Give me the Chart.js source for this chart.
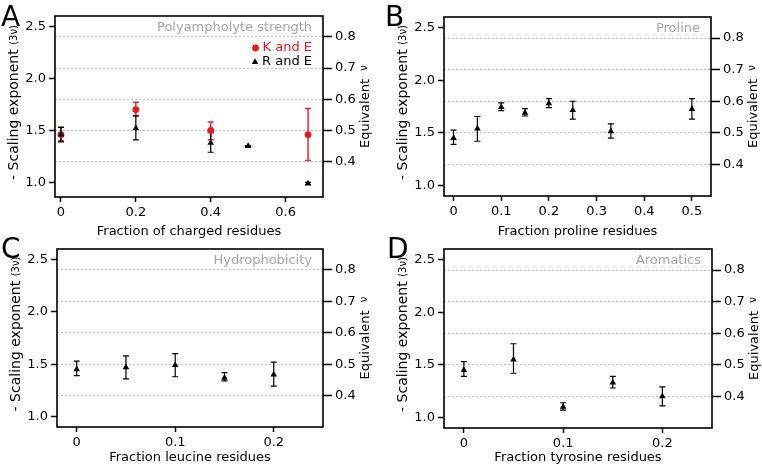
<!DOCTYPE html>
<html>
<head>
<meta charset="utf-8">
<script src="https://cdn.jsdelivr.net/npm/chart.js@4.4.1/dist/chart.umd.min.js"></script>
<style>
  body { margin: 0; background: #fff; }
  #fig { position: relative; width: 762px; height: 467px; background: #fff; }
  #fig canvas { position: absolute; }
</style>
</head>
<body>
<div id="fig">
  <canvas id="panelC" width="381" height="234" style="left:0;top:233px"></canvas>
  <canvas id="panelD" width="381" height="234" style="left:381px;top:233px"></canvas>
  <canvas id="panelA" width="381" height="242" style="left:0;top:0"></canvas>
  <canvas id="panelB" width="381" height="242" style="left:381px;top:0"></canvas>
</div>
<script>
// A: polyampholyte strength
const chargedKE = [0, 0.2, 0.4, 0.66];
const expKE = [1.46, 1.70, 1.50, 1.46];
const lowKE = [1.40, 1.64, 1.41, 1.21];
const highKE = [1.53, 1.77, 1.58, 1.71];

const chargedRE = [0, 0.2, 0.4, 0.5, 0.66];
const expRE = [1.46, 1.52, 1.38, 1.35, 0.99];
const lowRE = [1.39, 1.41, 1.29, 1.345, 0.98];
const highRE = [1.53, 1.64, 1.48, 1.355, 1.00];

// B: proline
const prolineFrac = [0, 0.05, 0.1, 0.15, 0.2, 0.25, 0.33, 0.5];
const expPro = [1.45, 1.54, 1.745, 1.69, 1.78, 1.715, 1.515, 1.725];
const lowPro = [1.39, 1.42, 1.71, 1.66, 1.74, 1.63, 1.45, 1.63];
const highPro = [1.525, 1.655, 1.785, 1.73, 1.825, 1.80, 1.585, 1.825];

// C: hydrophobicity (leucine)
const leucineFrac = [0, 0.05, 0.1, 0.15, 0.2];
const expLeu = [1.45, 1.47, 1.49, 1.37, 1.40];
const lowLeu = [1.39, 1.36, 1.38, 1.34, 1.29];
const highLeu = [1.53, 1.58, 1.60, 1.42, 1.52];

// D: aromatics (tyrosine)
const tyrosineFrac = [0, 0.05, 0.1, 0.15, 0.2];
const expTyr = [1.45, 1.55, 1.10, 1.33, 1.20];
const lowTyr = [1.39, 1.42, 1.07, 1.28, 1.11];
const highTyr = [1.53, 1.70, 1.14, 1.39, 1.29];

const yTicks = [1.0, 1.5, 2.0, 2.5];
const nuTicks = [0.4, 0.5, 0.6, 0.7, 0.8];
const xTicksA = [0, 0.2, 0.4, 0.6];
const xTicksB = [0, 0.1, 0.2, 0.3, 0.4, 0.5];
const xTicksCD = [0, 0.1, 0.2];

const FONT = '"DejaVu Sans", sans-serif';
Chart.defaults.font.family = FONT;
Chart.defaults.font.size = 13;
Chart.defaults.color = "#000";

function toPoints(xs, ys) {
  return xs.map((v, i) => ({ x: v, y: ys[i] }));
}

const errorBars = {
  id: "errorBars",
  beforeDatasetsDraw(chart) {
    const { ctx } = chart;
    const x = chart.scales.x, y = chart.scales.y;
    ctx.save();
    chart.data.datasets.forEach((ds) => {
      ctx.strokeStyle = ds.errColor;
      ctx.lineWidth = ds.errWidth;
      ds.data.forEach((p, i) => {
        const px = x.getPixelForValue(p.x);
        const top = y.getPixelForValue(ds.errHigh[i]);
        const bot = y.getPixelForValue(ds.errLow[i]);
        ctx.beginPath();
        ctx.moveTo(px, top); ctx.lineTo(px, bot);
        ctx.moveTo(px - 3, top); ctx.lineTo(px + 3, top);
        ctx.moveTo(px - 3, bot); ctx.lineTo(px + 3, bot);
        ctx.stroke();
      });
    });
    ctx.restore();
  },
};

const decor = {
  id: "decor",
  afterDraw(chart, args, opts) {
    const { ctx, chartArea: a } = chart;
    const midY = (a.top + a.bottom) / 2;
    ctx.save();
    ctx.strokeStyle = "#000";
    ctx.lineWidth = 1.6;
    ctx.strokeRect(a.left, a.top, a.right - a.left, a.bottom - a.top);

    ctx.fillStyle = "#000";
    ctx.font = "28px " + FONT;
    ctx.textAlign = "left";
    ctx.textBaseline = "alphabetic";
    ctx.fillText(opts.letter, opts.letterX, opts.letterY);

    ctx.font = "13px " + FONT;
    ctx.fillStyle = "#a6a6a6";
    ctx.textAlign = "right";
    ctx.textBaseline = "middle";
    ctx.fillText(opts.title, a.right - 11, a.top + 12);

    ctx.fillStyle = "#000";
    ctx.textAlign = "center";
    ctx.fillText(opts.xTitle, (a.left + a.right) / 2, a.bottom + opts.xTitleGap);

    // left title, reads bottom to top
    ctx.save();
    ctx.translate(a.left - 41, midY - 4);
    ctx.rotate(-Math.PI / 2);
    ctx.textAlign = "left";
    ctx.font = "14px " + FONT;
    const t1 = "- Scaling exponent ";
    const w1 = ctx.measureText(t1).width;
    ctx.font = "10px " + FONT;
    const t2 = "(3\u03bd)";
    const w2 = ctx.measureText(t2).width;
    ctx.font = "14px " + FONT;
    ctx.fillText(t1, -(w1 + w2) / 2, 0);
    ctx.font = "10px " + FONT;
    ctx.fillText(t2, -(w1 + w2) / 2 + w1, 0);
    ctx.restore();

    // right title
    ctx.save();
    ctx.translate(a.right + 43, midY);
    ctx.rotate(-Math.PI / 2);
    ctx.textAlign = "left";
    ctx.font = "13px " + FONT;
    const r1 = "Equivalent  ";
    const rw1 = ctx.measureText(r1).width;
    ctx.font = "10px " + FONT;
    const rw2 = ctx.measureText("\u03bd").width;
    ctx.font = "13px " + FONT;
    ctx.fillText(r1, -(rw1 + rw2) / 2, 0);
    ctx.font = "10px " + FONT;
    ctx.fillText("\u03bd", -(rw1 + rw2) / 2 + rw1, -2);
    ctx.restore();

    if (opts.legend) {
      ctx.font = "13px " + FONT;
      ctx.textAlign = "right";
      chart.data.datasets.forEach((ds, i) => {
        const ty = a.top + 32 + i * 14;
        const tx = a.right - 11;
        const w = ctx.measureText(ds.label).width;
        ctx.fillStyle = ds.backgroundColor;
        ctx.fillText(ds.label, tx, ty);
        Chart.helpers.drawPoint(ctx, {
          pointStyle: ds.pointStyle, radius: ds.pointRadius, rotation: 0, borderWidth: 0,
        }, tx - w - 7, ty);
      });
    }
    ctx.restore();
  },
};

function makePanel(id, cfg) {
  const ctx = document.getElementById(id).getContext("2d");
  return new Chart(ctx, {
    type: "scatter",
    data: { datasets: cfg.datasets },
    options: {
      responsive: false,
      animation: false,
      events: [],
      layout: { autoPadding: false, padding: { top: cfg.padTop, left: 0, right: 0, bottom: 0 } },
      plugins: {
        legend: { display: false },
        tooltip: { enabled: false },
        decor: cfg.decor,
      },
      scales: {
        x: {
          type: "linear",
          min: cfg.xMin,
          max: cfg.xMax,
          afterBuildTicks: (s) => { s.ticks = cfg.xTicks.map((v) => ({ value: v })); },
          afterFit: (s) => { s.height = cfg.xHeight; },
          ticks: { padding: 3, maxRotation: 0, callback: (v) => (v === 0 ? "0" : String(v)) },
          grid: { drawOnChartArea: false, tickLength: 5, tickColor: "#000", tickWidth: 1.5 },
          border: { display: false },
        },
        y: {
          position: "left",
          min: cfg.yMin,
          max: cfg.yMax,
          afterBuildTicks: (s) => { s.ticks = yTicks.map((v) => ({ value: v })); },
          afterFit: (s) => { s.width = cfg.leftWidth; },
          ticks: { padding: 3, callback: (v) => v.toFixed(1) },
          grid: { drawOnChartArea: false, tickLength: 6, tickColor: "#000", tickWidth: 1.5 },
          border: { display: false },
        },
        y2: {
          position: "right",
          min: cfg.yMin / 3,
          max: cfg.yMax / 3,
          afterBuildTicks: (s) => { s.ticks = nuTicks.map((v) => ({ value: v })); },
          afterFit: (s) => { s.width = cfg.rightWidth; },
          ticks: { padding: 3, callback: (v) => v.toFixed(1) },
          grid: { drawOnChartArea: true, color: "#c4c4c4", lineWidth: 1, tickLength: 9, tickColor: "#000", tickWidth: 1.5 },
          border: { display: false, dash: [2, 2] },
        },
      },
    },
    plugins: [errorBars, decor],
  });
}

function blackSet(label, xs, ys, lo, hi) {
  return {
    label: label,
    data: toPoints(xs, ys),
    errLow: lo, errHigh: hi,
    errColor: "#000", errWidth: 1.2,
    pointStyle: "triangle", pointRadius: 3.8,
    backgroundColor: "#000", borderWidth: 0,
    order: 0,
  };
}

makePanel("panelA", {
  datasets: [
    {
      label: "K and E",
      data: toPoints(chargedKE, expKE),
      errLow: lowKE, errHigh: highKE,
      errColor: "#e8282c", errWidth: 1.5,
      pointStyle: "circle", pointRadius: 3.4,
      backgroundColor: "#e8191c", borderWidth: 0,
      order: 1,
    },
    blackSet("R and E", chargedRE, expRE, lowRE, highRE),
  ],
  padTop: 16, xHeight: 45, leftWidth: 55, rightWidth: 58,
  xMin: -0.016, xMax: 0.70, xTicks: xTicksA, yMin: 0.86, yMax: 2.6,
  decor: { letter: "A", letterX: 1, letterY: 26, title: "Polyampholyte strength",
           xTitle: "Fraction of charged residues", xTitleGap: 35, legend: true },
});

makePanel("panelB", {
  datasets: [blackSet("Proline", prolineFrac, expPro, lowPro, highPro)],
  padTop: 17, xHeight: 46, leftWidth: 63, rightWidth: 51,
  xMin: -0.02, xMax: 0.54, xTicks: xTicksB, yMin: 0.9, yMax: 2.6,
  decor: { letter: "B", letterX: 4, letterY: 26, title: "Proline",
           xTitle: "Fraction proline residues", xTitleGap: 36, legend: false },
});

makePanel("panelC", {
  datasets: [blackSet("Leucine", leucineFrac, expLeu, lowLeu, highLeu)],
  padTop: 16, xHeight: 40, leftWidth: 57, rightWidth: 58,
  xMin: -0.02, xMax: 0.25, xTicks: xTicksCD, yMin: 0.9, yMax: 2.6,
  decor: { letter: "C", letterX: 1, letterY: 25, title: "Hydrophobicity",
           xTitle: "Fraction leucine residues", xTitleGap: 31, legend: false },
});

makePanel("panelD", {
  datasets: [blackSet("Tyrosine", tyrosineFrac, expTyr, lowTyr, highTyr)],
  padTop: 16, xHeight: 39, leftWidth: 63, rightWidth: 50,
  xMin: -0.02, xMax: 0.25, xTicks: xTicksCD, yMin: 0.9, yMax: 2.6,
  decor: { letter: "D", letterX: 6, letterY: 25, title: "Aromatics",
           xTitle: "Fraction tyrosine residues", xTitleGap: 30, legend: false },
});
</script>
</body>
</html>
